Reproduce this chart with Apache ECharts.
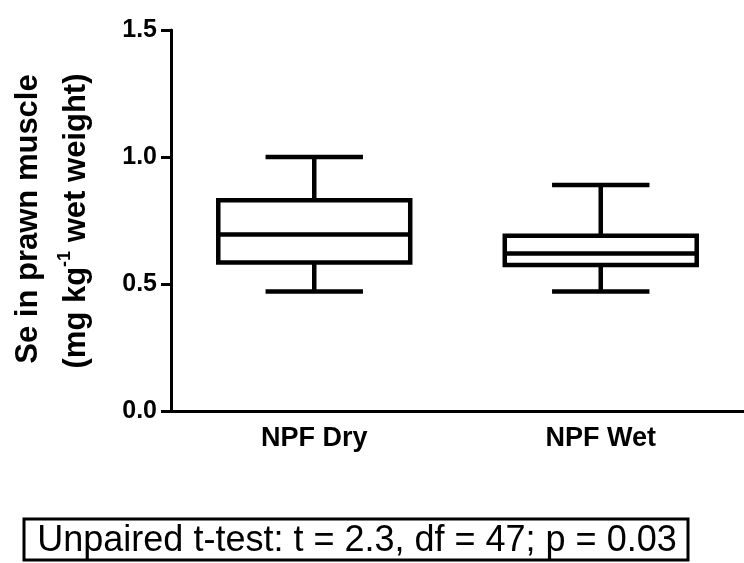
<!DOCTYPE html>
<html>
<head>
<meta charset="utf-8">
<title>Se in prawn muscle</title>
<script src="https://cdn.jsdelivr.net/npm/echarts@6/dist/echarts.min.js"></script>
<style>
  html, body { margin: 0; padding: 0; background: #fff; }
  #chart1 { width: 744px; height: 563px; }
</style>
</head>
<body>
<div id="chart1"></div>
<script type="text/javascript">
// data
var categories = ['NPF Dry', 'NPF Wet'];
var whiskerLow = [0.47, 0.47];
var q1 = [0.585, 0.575];
var median = [0.695, 0.62];
var q3 = [0.83, 0.69];
var whiskerHigh = [1.0, 0.89];
var yTicks = [0, 0.5, 1.0, 1.5];
var statText = 'Unpaired t-test: t = 2.3, df = 47; p = 0.03';

var boxData = categories.map(function (c, i) {
    return [i, whiskerLow[i], q1[i], median[i], q3[i], whiskerHigh[i]];
});

var lw = 4.5;

function renderBox(params, api) {
    var idx = api.value(0);
    var band = api.size([1, 0])[0];
    var boxW = band * 0.67;
    var capW = band * 0.34;
    var pLow = api.coord([idx, api.value(1)]);
    var pQ1 = api.coord([idx, api.value(2)]);
    var pMed = api.coord([idx, api.value(3)]);
    var pQ3 = api.coord([idx, api.value(4)]);
    var pHigh = api.coord([idx, api.value(5)]);
    var cx = pMed[0];
    var st = { stroke: '#000', lineWidth: lw, fill: null };
    return {
        type: 'group',
        children: [
            { type: 'rect', shape: { x: cx - boxW / 2, y: pQ3[1], width: boxW, height: pQ1[1] - pQ3[1] }, style: st },
            { type: 'line', shape: { x1: cx - boxW / 2, y1: pMed[1], x2: cx + boxW / 2, y2: pMed[1] }, style: st },
            { type: 'line', shape: { x1: cx, y1: pQ3[1], x2: cx, y2: pHigh[1] }, style: st },
            { type: 'line', shape: { x1: cx, y1: pQ1[1], x2: cx, y2: pLow[1] }, style: st },
            { type: 'line', shape: { x1: cx - capW / 2, y1: pHigh[1], x2: cx + capW / 2, y2: pHigh[1] }, style: st },
            { type: 'line', shape: { x1: cx - capW / 2, y1: pLow[1], x2: cx + capW / 2, y2: pLow[1] }, style: st }
        ]
    };
}

var myChart = echarts.init(document.getElementById('chart1'));
myChart.setOption({
    animation: false,
    backgroundColor: '#fff',
    grid: { left: 171, top: 30, width: 578, height: 381 },
    xAxis: {
        type: 'category',
        data: categories,
        boundaryGap: true,
        axisLine: { lineStyle: { color: '#000', width: 3 } },
        axisTick: { alignWithLabel: true, length: 8, lineStyle: { color: '#000', width: 3 } },
        axisLabel: { color: '#000', fontFamily: 'Liberation Sans', fontWeight: 'bold', fontSize: 27, margin: 14 }
    },
    yAxis: {
        type: 'value',
        min: yTicks[0],
        max: yTicks[yTicks.length - 1],
        interval: 0.5,
        axisLine: { show: true, lineStyle: { color: '#000', width: 3 } },
        axisTick: { show: true, length: 10, lineStyle: { color: '#000', width: 3 } },
        splitLine: { show: false },
        axisLabel: {
            color: '#000', fontFamily: 'Liberation Sans', fontWeight: 'bold', fontSize: 25, margin: 14,
            formatter: function (v) { return v.toFixed(1); }
        }
    },
    graphic: [
        {
            type: 'text', x: 28, y: 219, rotation: Math.PI / 2,
            style: {
                text: 'Se in prawn muscle', fill: '#000',
                font: 'bold 31px "Liberation Sans"', align: 'center', verticalAlign: 'middle'
            }
        },
        {
            type: 'text', x: 74, y: 221, rotation: Math.PI / 2,
            style: {
                text: '{a|(mg kg}{s|-1}{a| wet weight)}', fill: '#000',
                align: 'center', verticalAlign: 'middle',
                rich: {
                    a: { font: 'bold 31px "Liberation Sans"', fill: '#000', lineHeight: 36, verticalAlign: 'bottom' },
                    s: { font: 'bold 18px "Liberation Sans"', fill: '#000', lineHeight: 36, verticalAlign: 'top' }
                }
            }
        },
        {
            type: 'rect', shape: { x: 24, y: 519, width: 664, height: 41 },
            style: { fill: '#fff', stroke: '#000', lineWidth: 3 }
        },
        {
            type: 'text', x: 357, y: 541,
            style: {
                text: statText, fill: '#000',
                font: '36px "Liberation Sans"', align: 'center', verticalAlign: 'middle'
            }
        }
    ],
    series: [{
        type: 'custom',
        renderItem: renderBox,
        encode: { x: 0, y: [1, 2, 3, 4, 5] },
        data: boxData
    }]
});
</script>
</body>
</html>
